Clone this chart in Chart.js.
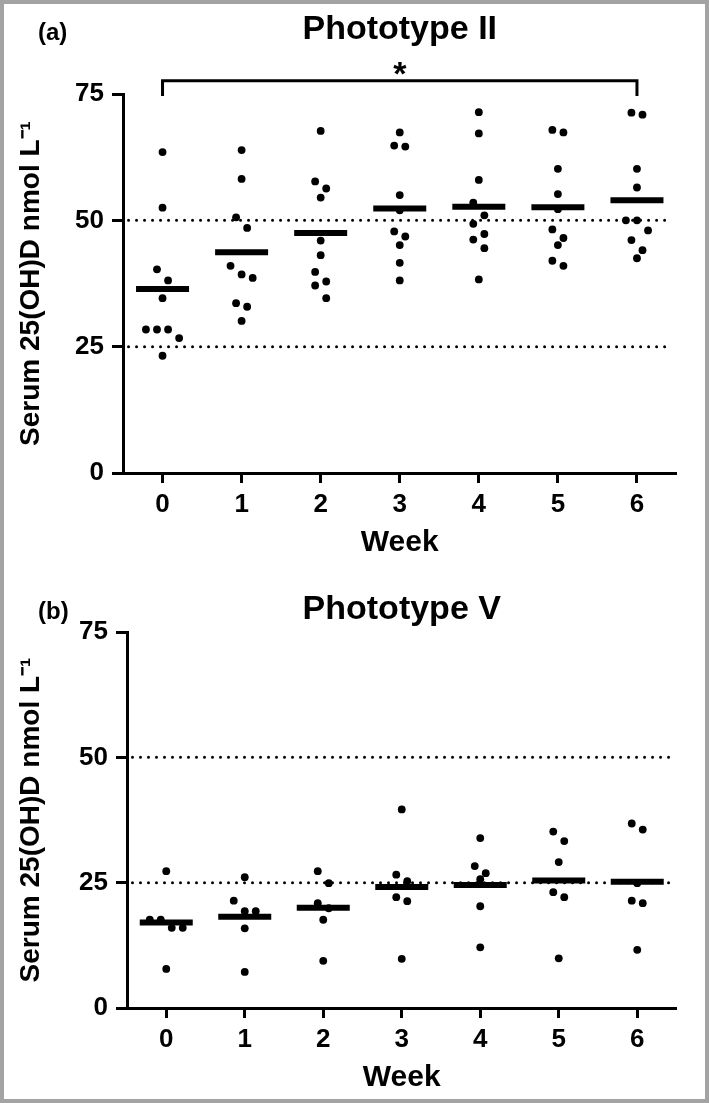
<!DOCTYPE html>
<html>
<head>
<meta charset="utf-8">
<title>Serum 25(OH)D by phototype</title>
<script src="https://cdn.jsdelivr.net/npm/chart.js@4.4.0/dist/chart.umd.min.js"></script>
<style>
  html, body { margin: 0; padding: 0; background: #fff; }
  #frame { position: absolute; left: 0; top: 0; width: 709px; height: 1103px; box-sizing: border-box; border: 4px solid #a3a3a3; background: #fff; }
  canvas { position: absolute; left: 0; }
</style>
</head>
<body>
<div id="frame"></div>
<canvas id="chart-a" width="709" height="580" style="top:0"></canvas>
<canvas id="chart-b" width="709" height="563" style="top:540px"></canvas>

<script>
// Weeks of the study
const weeks = [0, 1, 2, 3, 4, 5, 6];
const yTicks = [0, 25, 50, 75];
const refLevels = [25, 50];

// Serum 25(OH)D (nmol/L), one list per week
const phototypeII = [
    [63.5, 52.5, 40.3, 38.1, 34.6, 28.4, 28.4, 28.4, 26.7, 23.2],
    [63.9, 58.2, 50.6, 48.5, 41.0, 39.3, 38.6, 33.6, 32.9, 30.1],
    [67.7, 57.7, 56.3, 54.5, 46.0, 43.1, 39.8, 37.9, 37.1, 34.6],
    [67.4, 64.8, 64.6, 55.0, 52.0, 47.8, 46.8, 45.1, 41.6, 38.1],
    [71.4, 67.2, 58.0, 53.5, 51.0, 49.3, 47.3, 46.2, 44.5, 38.3],
    [67.9, 67.4, 60.2, 55.2, 52.2, 48.2, 46.5, 45.1, 42.0, 41.0],
    [71.3, 70.9, 60.2, 56.5, 50.0, 50.0, 48.0, 46.1, 44.1, 42.5]
];
const phototypeV = [
    [27.3, 17.6, 17.6, 16.0, 16.0, 7.8],
    [26.1, 21.4, 19.3, 19.3, 15.9, 7.2],
    [27.3, 24.9, 20.9, 19.9, 17.6, 9.4],
    [39.6, 26.6, 25.3, 22.1, 21.3, 9.8],
    [33.9, 28.3, 26.9, 25.7, 20.3, 12.1],
    [35.2, 33.3, 29.1, 23.1, 22.1, 9.9],
    [36.8, 35.6, 24.9, 21.4, 20.9, 11.6]
];

// significance bracket (week 0 vs week 6, phototype II)
const bracketWeeks = [0, 6];
const bracketLevels = [74.6, 77.6];

const FONT = "'Liberation Sans', Arial, sans-serif";

// spread points of one week sideways, GraphPad style rows
function swarm(groups, rowSpan, step) {
    const pts = [];
    groups.forEach((vals, i) => {
        const sorted = vals.slice().sort((a, b) => b - a);
        let row = [];
        const flush = () => {
            row.forEach((v, k) => pts.push({ x: weeks[i] + (k - (row.length - 1) / 2) * step, y: v }));
            row = [];
        };
        sorted.forEach(v => {
            if (row.length && row[0] - v > rowSpan) flush();
            row.push(v);
        });
        flush();
    });
    return pts;
}

function means(groups) {
    return groups.map((vals, i) => ({ x: weeks[i], y: vals.reduce((a, b) => a + b, 0) / vals.length }));
}

// draws the panel letter and the asterisk
const panelText = {
    id: 'panelText',
    afterDraw(chart, args, opts) {
        const ctx = chart.ctx;
        ctx.save();
        ctx.fillStyle = '#000';
        ctx.font = 'bold 24px ' + FONT;
        ctx.textAlign = 'left';
        ctx.textBaseline = 'middle';
        ctx.fillText(opts.letter, opts.letterX, opts.letterY);
        if (opts.star) {
            const xs = chart.scales.x, ys = chart.scales.y;
            ctx.font = 'bold 34px ' + FONT;
            ctx.textAlign = 'center';
            ctx.textBaseline = 'alphabetic';
            const mid = (bracketWeeks[0] + bracketWeeks[1]) / 2;
            ctx.fillText('*', xs.getPixelForValue(mid), ys.getPixelForValue(bracketLevels[1]) + 4);
        }
        ctx.restore();
    }
};

function makePanel(canvasId, title, groups, area, cfg) {
    const canvas = document.getElementById(canvasId);
    const H = canvas.height;
    const datasets = [];

    refLevels.forEach(level => {
        datasets.push({
            type: 'line',
            data: [{ x: -0.43, y: level }, { x: 6.44, y: level }],
            borderColor: '#000',
            borderWidth: 3,
            borderDash: [0.001, 8],
            borderCapStyle: 'round',
            pointRadius: 0,
            fill: false,
            order: 3
        });
    });

    datasets.push({
        type: 'scatter',
        data: swarm(groups, 2.5, 0.14),
        backgroundColor: '#000',
        borderWidth: 0,
        pointRadius: 3.9,
        order: 2
    });

    datasets.push({
        type: 'scatter',
        data: means(groups),
        pointStyle: 'line',
        pointRadius: 26.5,
        borderColor: '#000',
        borderWidth: 6,
        order: 1
    });

    if (cfg.bracket) {
        datasets.push({
            type: 'line',
            data: [
                { x: bracketWeeks[0], y: bracketLevels[0] },
                { x: bracketWeeks[0], y: bracketLevels[1] },
                { x: bracketWeeks[1], y: bracketLevels[1] },
                { x: bracketWeeks[1], y: bracketLevels[0] }
            ],
            borderColor: '#000',
            borderWidth: 3,
            pointRadius: 0,
            fill: false,
            clip: false,
            order: 0
        });
    }

    const titleFont = 34;
    const titleLH = titleFont * 1.2;
    const weekFont = 30;

    return new Chart(canvas, {
        data: { datasets },
        options: {
            responsive: false,
            animation: false,
            events: [],
            layout: { padding: { left: 0, right: 709 - area.right, top: 0, bottom: 0 } },
            plugins: {
                legend: { display: false },
                tooltip: { enabled: false },
                title: {
                    display: true,
                    text: title,
                    fullSize: false,
                    color: '#000',
                    font: { family: FONT, size: titleFont, weight: 'bold', lineHeight: 1.2 },
                    padding: { top: cfg.titleY - titleLH / 2, bottom: area.top - cfg.titleY - titleLH / 2 }
                },
                panelText: { letter: cfg.letter, letterX: cfg.letterX, letterY: cfg.letterY, star: !!cfg.bracket }
            },
            scales: {
                x: {
                    type: 'linear',
                    min: -0.5,
                    max: 6.5,
                    afterBuildTicks: s => { s.ticks = weeks.map(w => ({ value: w })); },
                    afterFit: s => { s.height = H - area.bottom; },
                    border: { display: true, color: '#000', width: 3 },
                    grid: { drawOnChartArea: false, drawTicks: true, tickLength: 10, tickWidth: 3, tickColor: '#000' },
                    ticks: { color: '#000', padding: 6, font: { family: FONT, size: 26, weight: 'bold' } },
                    title: {
                        display: true,
                        text: 'Week',
                        color: '#000',
                        font: { family: FONT, size: weekFont, weight: 'bold', lineHeight: 1.2 },
                        padding: { top: 0, bottom: H - (area.bottom + 70) - weekFont * 0.6 }
                    }
                },
                y: {
                    type: 'linear',
                    min: 0,
                    max: 75,
                    afterBuildTicks: s => { s.ticks = yTicks.map(v => ({ value: v })); },
                    afterFit: s => { s.width = area.left; },
                    border: { display: true, color: '#000', width: 3 },
                    grid: { drawOnChartArea: false, drawTicks: true, tickLength: 11, tickWidth: 3, tickColor: '#000' },
                    ticks: { color: '#000', padding: 8, font: { family: FONT, size: 26, weight: 'bold' } },
                    title: {
                        display: true,
                        text: 'Serum 25(OH)D nmol L\u207B\u00B9',
                        color: '#000',
                        font: { family: FONT, size: 28, weight: 'bold', lineHeight: 1.2 },
                        padding: { top: 14, bottom: 0 }
                    }
                }
            }
        },
        plugins: [panelText]
    });
}

makePanel('chart-a', 'Phototype II', phototypeII,
    { left: 123, right: 689, top: 94, bottom: 473 },
    { letter: '(a)', letterX: 38, letterY: 33, titleY: 30, bracket: true });

makePanel('chart-b', 'Phototype V', phototypeV,
    { left: 127, right: 692, top: 92, bottom: 468 },
    { letter: '(b)', letterX: 38, letterY: 72, titleY: 70, bracket: false });
</script>
</body>
</html>
